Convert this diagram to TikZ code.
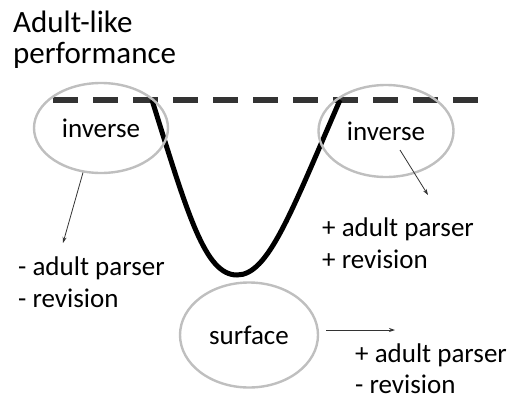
\documentclass[tikz,border=0pt]{standalone}
\usepackage{fontspec}
\setmainfont{Carlito}
\usepackage{tikz}
\usetikzlibrary{positioning, shapes.geometric, arrows.meta}

\begin{document}
\begin{tikzpicture}[
    x=1pt, y=-1pt,
    bubble/.style={ellipse, draw=black!25, line width=2.4pt, inner sep=0pt, font=\fontsize{27}{32}\selectfont},
    note/.style={anchor=base west, align=left, inner sep=0pt, font=\fontsize{27}{32}\selectfont},
    pointer/.style={draw=black!80, line width=0.8pt, -{Stealth[length=6pt, width=4pt]}}
]
    \useasboundingbox (0,0) rectangle (509,402);

    % Title
    \node[note, font=\fontsize{31}{31}\selectfont] (Title) at (13,63) {Adult-like\\performance};

    % Level and curve
    \coordinate (LineL) at (53,100);
    \coordinate (LineR) at (484,100);
    \draw[black!80, line width=6pt, dash pattern=on 25pt off 15pt] (LineL) -- (LineR);
    \coordinate (TopL) at (152,100);
    \coordinate (Dip) at (237,275);
    \coordinate (TopR) at (340,100);
    \draw[black, line width=5pt] (TopL) .. controls (188,215) and (205,275) .. (Dip)
        .. controls (268,275) and (290,215) .. (TopR);

    % Bubbles
    \node[bubble, minimum width=134pt, minimum height=90pt] (InvL) at (101,128) {inverse};
    \node[bubble, minimum width=135pt, minimum height=92pt] (InvR) at (386,131) {inverse};
    \node[bubble, minimum width=138pt, minimum height=105pt] (Surf) at (249,335) {surface};

    % Outcomes
    \node[note] (OutL) at (18,307) {- adult parser\\- revision};
    \node[note] (OutR) at (322,268) {+ adult parser\\+ revision};
    \node[note, font=\fontsize{27}{31}\selectfont] (OutS) at (355,393) {+ adult parser\\- revision};

    % Pointers
    \coordinate (TipL) at (63,243);
    \coordinate (FromR) at (400,150);
    \coordinate (TipR) at (428,195);
    \coordinate (TipS) at (395,330);
    \draw[pointer] (InvL.248) -- (TipL);
    \draw[pointer] (FromR) -- (TipR);
    \draw[pointer] ([xshift=7pt, yshift=5pt]Surf.east) -- (TipS);

\end{tikzpicture}
\end{document}
